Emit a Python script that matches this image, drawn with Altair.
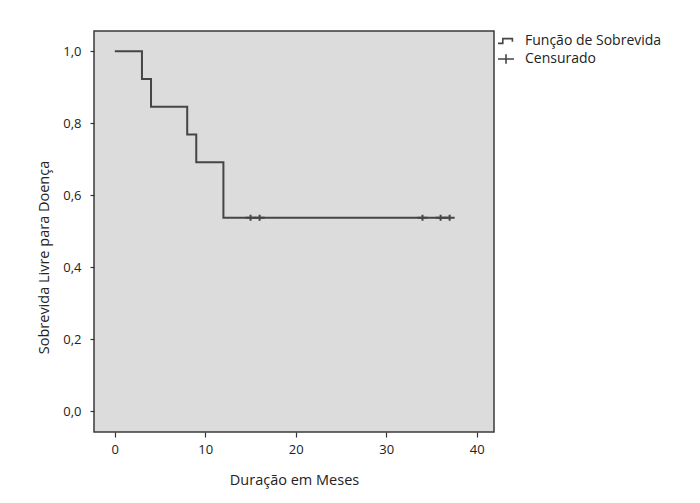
import altair as alt
import pandas as pd

# Kaplan-Meier step curve (months, survival)
step_months = [0, 3, 4, 8, 9, 12, 37]
step_survival = [1.0, 0.923, 0.846, 0.769, 0.692, 0.538, 0.538]

# Censored observations
censor_months = [15, 16, 34, 36, 37]
censor_survival = [0.538, 0.538, 0.538, 0.538, 0.538]

legend_labels = ["Função de Sobrevida", "Censurado"]
x_ticks = [0, 10, 20, 30, 40]
y_ticks = [0.0, 0.2, 0.4, 0.6, 0.8, 1.0]

step_df = pd.DataFrame({"t": step_months, "s": step_survival})
cens_df = pd.DataFrame({"t": censor_months, "s": censor_survival,
                        "tipo": ["Censurado"] * len(censor_months)})

FONT = "Open Sans"
LINE = "#454545"

x_enc = alt.X("t:Q",
              scale=alt.Scale(domain=[-2.3, 41.9], nice=False, zero=False),
              axis=alt.Axis(values=x_ticks, title="Duração em Meses",
                            titleY=52, titleBaseline="alphabetic",
                            tickSize=5, labelPadding=6,
                            format="d"))
y_enc = alt.Y("s:Q",
              scale=alt.Scale(domain=[-0.057, 1.056], nice=False, zero=False),
              axis=alt.Axis(values=y_ticks, title="Sobrevida Livre para Doença",
                            titleX=-50, titleY=226, titleBaseline="middle",
                            titleAlign="center",
                            tickSize=4, labelPadding=9,
                            labelExpr="replace(format(datum.value, '.1f'), '.', ',')"))

step_path = "M-1,0.3H-0.4V-0.3H0.8V0.1"
plus_path = "M-1,0H1M0,-0.6V0.6"

line = alt.Chart(step_df).mark_line(interpolate="step-after", color=LINE,
                                    strokeWidth=2).encode(x=x_enc, y=y_enc)

cens = alt.Chart(cens_df).mark_point(filled=False, color=LINE, strokeWidth=2,
                                     size=100, opacity=1).encode(
    x="t:Q", y="s:Q",
    shape=alt.Shape("tipo:N",
                    scale=alt.Scale(domain=legend_labels, range=[step_path, plus_path]),
                    legend=alt.Legend(title=None, orient="none", legendX=403, legendY=1,
                                      symbolSize=256, symbolStrokeWidth=1.6,
                                      symbolStrokeColor=LINE,
                                      labelFontSize=14, labelFont=FONT,
                                      labelColor="#222", labelOffset=10,
                                      padding=0, rowPadding=2)))

chart = alt.layer(line, cens).properties(
    width=400, height=401,
    autosize=alt.AutoSizeParams(type="none"),
    padding={"left": 86, "top": 23, "right": 190, "bottom": 58},
    background="white",
).configure_view(
    fill="#dcdcdc", stroke="#3a3a3a", strokeWidth=1.5
).configure_axis(
    grid=False, domain=False,
    tickColor="#333", tickWidth=1.2,
    labelFont=FONT, labelFontSize=13, labelColor="#222",
    titleFont=FONT, titleFontSize=14.5, titleFontWeight="normal", titleColor="#222",
)

chart.save("out.html", embed_options={"renderer": "svg", "actions": False})
